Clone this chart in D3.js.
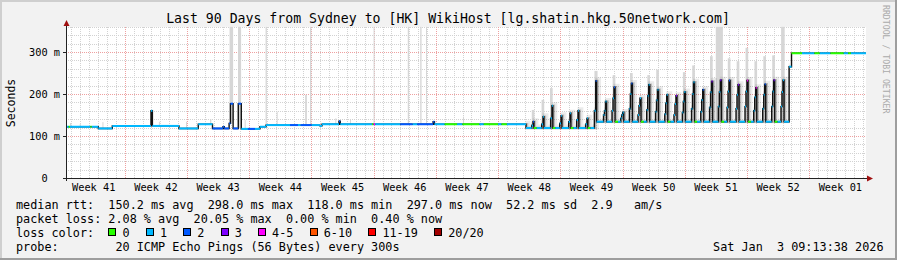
<!DOCTYPE html>
<html lang="en">
<head>
<meta charset="utf-8">
<title>Last 90 Days from Sydney to [HK] WikiHost</title>
<script src="https://d3js.org/d3.v7.min.js"></script>
<style>
    body{
        margin: 0;
        background: #f2f2f2;
    }
    text{
        font-family: "DejaVu Sans Mono", monospace;
        fill: #000;
        white-space: pre;
    }
    .title{ font-size: 13.2px; }
    .legend{ font-size: 11.8px; }
    .tick{ font-size: 10.3px; }
    .watermark{ font-size: 8.2px; fill: #aaa; }
</style>
</head>
<body>
<div id="chart"></div>
<script>

// ---- data ----
var titleText = "Last 90 Days from Sydney to [HK] WikiHost [lg.shatin.hkg.50network.com]"
var weekLabels = ["Week 41","Week 42","Week 43","Week 44","Week 45","Week 46","Week 47",
                  "Week 48","Week 49","Week 50","Week 51","Week 52","Week 01"]
var yTicks = [0, 100, 200, 300]
var yTickLabels = ["0  ", "100 m", "200 m", "300 m"]
var lossLabels = ["0","1","2","3","4-5","6-10","11-19","20/20"]
var lossColors = ["#26ff00","#00b8ff","#0059ff","#7e00ff","#ff00ff","#ff5500","#ff0000","#a10000"]
var statLines = [
    "median rtt:  150.2 ms avg  298.0 ms max  118.0 ms min  297.0 ms now  52.2 ms sd  2.9   am/s",
    "packet loss: 2.08 % avg  20.05 % max  0.00 % min  0.40 % now"
]
var probeLine = "probe:        20 ICMP Echo Pings (56 Bytes) every 300s"
var stampText = "Sat Jan  3 09:13:38 2026"

// median rtt: [day since start, ms, loss colour index]
var rttFlat = [
    [0.00,122,1],[0.30,122,0],[0.45,122,1],[2.75,122,0],[2.90,122,1],[3.63,118,1],
    [5.21,124,1],[9.56,160,1],[9.72,124,1],[12.71,118,1],[14.88,128,1],[16.48,118,2],
    [17.66,122,2],[17.80,118,2],[18.35,130,2],[18.50,177,2],[18.80,118,2],[19.38,177,2],
    [19.72,117,1],[20.47,117,2],[21.26,117,1],[21.82,122,1],[22.50,126,1],[25.20,126,2],
    [26.10,126,1],[26.40,126,2],[27.64,126,1],[28.57,124,1],[28.80,128,1],[30.71,135,2],
    [30.85,128,1],[34.42,128,0],[34.60,128,4],[34.78,128,1],[37.60,128,2],[39.00,128,1],
    [39.50,128,2],[41.30,134,2],[41.45,128,1],[42.60,128,0],[44.00,128,1],[44.60,128,0],
    [46.50,128,1],[47.00,128,0],[48.60,128,1],[49.00,128,0],[49.60,128,1],[51.75,119,1]
]
var rttWeek48 = [
    [52.39,125,1],[52.54,134,2],[52.64,119,0],[52.95,119,1],
    [53.52,128,1],[53.67,146,1],[53.77,119,1],
    [54.52,142,1],[54.67,172,1],[54.77,119,0],[55.05,119,1],
    [55.54,130,1],[55.69,148,1],[55.79,119,1],
    [56.55,134,1],[56.70,154,1],[56.80,119,0],[57.10,119,1],
    [57.45,138,1],[57.60,160,1],[57.70,119,1],
    [58.46,128,1],[58.61,142,1],[58.71,119,0],[59.00,119,1],
    [59.44,160,1],[59.59,231,2],[59.69,134,1]
]
var rttDaily = [
    [60.47,150,1],[60.58,160,1],[60.69,182,1],[60.81,134,1],
    [61.43,160,1],[61.54,190,1],[61.65,216,2],[61.77,134,0],[62.10,134,1],
    [62.41,142,1],[62.52,150,1],[62.63,156,1],[62.75,134,1],
    [63.38,165,1],[63.49,200,1],[63.60,225,2],[63.72,134,1],
    [64.35,150,1],[64.46,172,1],[64.57,190,1],[64.69,134,0],[65.00,134,1],
    [65.33,162,1],[65.44,196,1],[65.55,222,1],[65.67,134,1],
    [66.32,158,1],[66.43,185,1],[66.54,210,1],[66.66,134,1],
    [67.36,152,1],[67.47,178,1],[67.58,198,1],[67.70,134,0],[68.00,134,1],
    [68.40,150,1],[68.51,176,1],[68.62,196,3],[68.74,134,1],
    [69.34,156,1],[69.45,182,1],[69.56,205,1],[69.68,134,1],
    [70.37,165,1],[70.48,200,1],[70.59,228,1],[70.71,134,0],[71.00,134,1],
    [71.41,158,1],[71.52,186,1],[71.63,210,2],[71.75,134,1],
    [72.40,168,1],[72.51,204,1],[72.62,230,3],[72.74,134,1],
    [73.39,170,1],[73.50,205,1],[73.61,233,3],[73.73,134,0],[74.05,134,1],
    [74.37,168,1],[74.48,206,1],[74.59,232,2],[74.71,134,1],
    [75.38,165,1],[75.49,198,1],[75.60,222,3],[75.72,134,1],
    [76.39,170,1],[76.50,206,1],[76.61,232,4],[76.73,134,0],[77.05,134,1],
    [77.37,160,1],[77.48,192,1],[77.59,215,4],[77.71,134,1],
    [78.38,165,1],[78.49,198,1],[78.60,223,2],[78.72,134,1],
    [79.39,170,1],[79.50,206,1],[79.61,233,3],[79.73,134,0],[80.05,134,1],
    [80.44,170,1],[80.55,205,1],[80.66,233,1],[80.78,134,1]
]
var rttPlateau = [
    [81.35,265,1],[81.62,297,0],[82.80,297,1],[84.20,297,0],[84.80,297,1],
    [86.00,297,0],[87.50,297,1],[88.00,297,0],[88.30,297,1],[90.00,297,1]
]

// light smoke columns (outlier pings): [start day, end day, top ms]
var smokeCols = [
    [0.45,0.60,131],[1.55,1.65,129],[4.10,4.20,133],[10.45,10.55,134],[13.50,13.60,134],
    [16.20,16.35,140],[18.40,18.80,400],[19.35,19.70,400],[20.10,20.20,138],[22.45,22.60,400],
    [23.70,23.80,158],[26.90,27.10,198],[27.45,27.60,400],[30.30,30.40,142],[31.95,32.05,140],
    [34.60,34.72,400],[38.45,38.60,400],[39.85,40.00,400],[40.50,40.60,400],[44.66,44.78,146],
    [52.40,52.70,162],[53.50,53.80,186],[54.45,54.75,214],
    [59.45,59.80,255],[61.50,61.80,245],[63.45,63.75,250],[65.40,65.70,245],[66.40,66.70,258],
    [69.40,69.70,252],[70.45,70.75,268],[72.45,72.75,290],[73.10,73.90,400],[74.45,74.75,285],
    [75.45,75.75,278],[76.45,76.75,310],[77.45,77.75,278],[78.45,78.75,290],[79.45,79.75,292],
    [80.45,80.85,400]
]

// ---- layout ----
var width = 897
var height = 260
var DAY = 864e5
var endTime = new Date(Date.UTC(2026, 0, 3, 9, 13, 38))
var startTime = new Date(+endTime - 90 * DAY)

var x = d3.scaleUtc().domain([startTime, endTime]).range([66, 866])
var y = d3.scaleLinear().domain([0, 360]).range([178, 26.8])

function toDate(d){ return new Date(+startTime + d * DAY) }
function px(v){ return Math.round(v) + 0.5 }

var svg = d3.select("#chart")
  .append("svg")
    .attr("width", width)
    .attr("height", height)

// frame with rrdtool style shading
svg.append("rect").attr("width", width).attr("height", height).attr("fill", "#f2f2f2")
svg.append("path").attr("d", "M0,0H" + width + "V2H2V" + height + "H0Z").attr("fill", "#cfcfcf")
svg.append("path").attr("d", "M" + width + "," + height + "H0V" + (height - 2) + "H" + (width - 2) + "V0H" + width + "Z").attr("fill", "#9e9e9e")

// canvas
svg.append("rect")
    .attr("x", 66).attr("y", y(360))
    .attr("width", 800).attr("height", y(0) - y(360))
    .attr("fill", "#fff")

// grid
var grid = svg.append("g").attr("shape-rendering", "crispEdges").attr("stroke-dasharray", "1,1")

var sundays = d3.utcSunday.range(startTime, endTime)
var days = d3.utcDay.range(startTime, endTime).filter(d => d.getUTCDay() !== 0)

grid.selectAll("line.vminor").data(days).enter().append("line")
    .attr("x1", d => px(x(d))).attr("x2", d => px(x(d)))
    .attr("y1", y(0)).attr("y2", y(360))
    .attr("stroke", "#d2d2d2")

var hMinor = d3.range(20, 361, 20).filter(v => v % 100 !== 0)
grid.selectAll("line.hminor").data(hMinor).enter().append("line")
    .attr("x1", 66).attr("x2", 866)
    .attr("y1", d => px(y(d))).attr("y2", d => px(y(d)))
    .attr("stroke", "#d2d2d2")

grid.selectAll("line.vmajor").data(sundays).enter().append("line")
    .attr("x1", d => px(x(d))).attr("x2", d => px(x(d)))
    .attr("y1", y(0)).attr("y2", y(360))
    .attr("stroke", "#eea0a0")

grid.selectAll("line.hmajor").data(yTicks.slice(1)).enter().append("line")
    .attr("x1", 66).attr("x2", 866)
    .attr("y1", d => px(y(d))).attr("y2", d => px(y(d)))
    .attr("stroke", "#eea0a0")

// median rtt points
var rtt = [].concat(rttFlat, rttWeek48, rttDaily, rttPlateau)
    .map(r => ({t: toDate(r[0]), ms: r[1], loss: r[2]}))
var bisect = d3.bisector(d => d.t).right
function medianAt(t){ return rtt[Math.max(0, bisect(rtt, t) - 1)].ms }

// smoke columns
svg.append("g").selectAll("rect").data(smokeCols).enter().append("rect")
    .attr("x", d => x(toDate(d[0])))
    .attr("width", d => Math.max(1, x(toDate(d[1])) - x(toDate(d[0]))))
    .attr("y", d => y(Math.min(360, d[2])))
    .attr("height", d => y(medianAt(toDate(d[0]))) - y(Math.min(360, d[2])))
    .attr("fill", "#d6d6d6")

// dense smoke round the daily spikes
svg.append("clipPath").attr("id", "spikeClip")
  .append("rect")
    .attr("x", x(toDate(51.7))).attr("y", y(360))
    .attr("width", x(toDate(81.4)) - x(toDate(51.7))).attr("height", y(0) - y(360))

var line = d3.line().x(d => x(d.t)).y(d => y(d.ms)).curve(d3.curveStepAfter)

var smoke = svg.append("g").attr("clip-path", "url(#spikeClip)")
smoke.append("path").datum(rtt).attr("d", line)
    .attr("fill", "none").attr("stroke", "#000").attr("stroke-opacity", 0.08)
    .attr("stroke-width", 5).attr("transform", "translate(2,-1)")
smoke.append("path").datum(rtt).attr("d", line)
    .attr("fill", "none").attr("stroke", "#000").attr("stroke-opacity", 0.2)
    .attr("stroke-width", 2.5).attr("transform", "translate(1,0)")

// median line: black steps, loss coloured levels
svg.append("path").datum(rtt).attr("d", line)
    .attr("fill", "none").attr("stroke", "#111").attr("stroke-width", 1.4)

svg.append("g").selectAll("line").data(d3.pairs(rtt)).enter().append("line")
    .attr("x1", d => x(d[0].t)).attr("x2", d => x(d[1].t))
    .attr("y1", d => y(d[0].ms)).attr("y2", d => y(d[0].ms))
    .attr("stroke", d => lossColors[d[0].loss])
    .attr("stroke-width", 2)

// axes
var axis = svg.append("g").attr("shape-rendering", "crispEdges").attr("stroke", "#222")
axis.append("line").attr("x1", 63).attr("x2", 868).attr("y1", 178.5).attr("y2", 178.5)
axis.append("line").attr("x1", 66.5).attr("x2", 66.5).attr("y1", 181).attr("y2", 24)
axis.selectAll("line.ytick").data(yTicks).enter().append("line")
    .attr("x1", 63).attr("x2", 66)
    .attr("y1", d => px(y(d))).attr("y2", d => px(y(d)))
svg.append("path").attr("d", "M867,175.5L873,178.5L867,181.5Z").attr("fill", "#a01010")
svg.append("path").attr("d", "M63.5,26L66.5,20L69.5,26Z").attr("fill", "#a01010")

svg.selectAll("text.ylab").data(yTicks).enter().append("text")
    .attr("class", "tick")
    .attr("x", 60).attr("y", d => y(d) + 3.6)
    .attr("text-anchor", "end")
    .text((d, i) => yTickLabels[i])

var weekStarts = d3.utcSunday.range(d3.utcSunday.floor(startTime), endTime)
svg.selectAll("text.xlab").data(weekStarts).enter().append("text")
    .attr("class", "tick")
    .attr("x", d => x(new Date(+d + 3.5 * DAY)))
    .attr("y", 191)
    .attr("text-anchor", "middle")
    .text((d, i) => weekLabels[i])

svg.append("text").attr("class", "tick")
    .attr("transform", "translate(15,103) rotate(-90)")
    .attr("text-anchor", "middle")
    .style("font-size", "11.5px")
    .text("Seconds")

svg.append("text").attr("class", "title")
    .attr("x", 448).attr("y", 23)
    .attr("text-anchor", "middle")
    .text(titleText)

svg.append("text").attr("class", "watermark")
    .attr("transform", "translate(883,5) rotate(90)")
    .text("RRDTOOL / TOBI OETIKER")

// legend
var charW = 7.1
var legendX = 16
statLines.forEach(function(s, i){
    svg.append("text").attr("class", "legend")
        .attr("x", legendX).attr("y", 208.5 + i * 14)
        .text(s)
})

svg.append("text").attr("class", "legend")
    .attr("x", legendX).attr("y", 236.5)
    .text("loss color:")

var pos = legendX + 13 * charW
lossLabels.forEach(function(lbl, i){
    svg.append("rect")
        .attr("x", Math.round(pos) + 0.5).attr("y", 228.5)
        .attr("width", 7).attr("height", 7)
        .attr("fill", lossColors[i])
        .attr("stroke", "#000").attr("stroke-width", 1)
    svg.append("text").attr("class", "legend")
        .attr("x", pos + 2 * charW).attr("y", 236.5)
        .text(lbl)
    pos += 2 * charW + lbl.length * charW + 16.1
})

svg.append("text").attr("class", "legend")
    .attr("x", legendX).attr("y", 250.5)
    .text(probeLine)

svg.append("text").attr("class", "legend")
    .attr("x", 883.5).attr("y", 250.5)
    .attr("text-anchor", "end")
    .text(stampText)

</script>
</body>
</html>
